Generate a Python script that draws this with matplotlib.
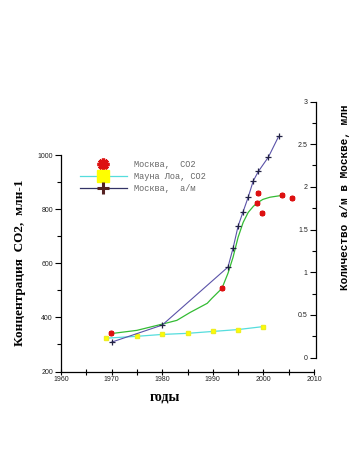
import numpy as np
import matplotlib.pyplot as plt
from matplotlib.lines import Line2D

# Москва, CO2 (точки, левая ось)
years_msk_co2 = [1969.8, 1991.8, 1999.0, 1998.8, 1999.8, 2003.7, 2005.7]
co2_msk = [341, 507, 860, 822, 785, 851, 840]

# сглаженная кривая по данным Москвы
years_fit = [1970.3, 1975, 1980.2, 1982.9, 1985.5, 1988.9, 1989.8, 1991.8, 1993.0,
             1994.0, 1995.0, 1996.0, 1997.0, 1998.0, 1998.7, 1999.9, 2001.3,
             2002.7, 2003.7]
co2_fit = [341, 352, 376, 389, 418, 452, 470, 507, 563, 622, 696, 751, 788,
           810, 822, 836, 844, 848, 851]

# Мауна Лоа, CO2
years_ml = [1968.8, 1975, 1980, 1985, 1990, 1995, 2000]
co2_ml = [323, 330, 337, 341, 348, 355, 366]

# Москва, автомобили (правая ось), млн
years_cars = [1970, 1980, 1993, 1994, 1995, 1996, 1997, 1998, 1999, 2001, 2003]
cars = [0.18, 0.38, 1.06, 1.28, 1.54, 1.71, 1.88, 2.07, 2.18, 2.35, 2.59]

x_ticks = [1960, 1970, 1980, 1990, 2000, 2010]
y_ticks = [200, 400, 600, 800, 1000]
y2_ticks = [0, 0.5, 1, 1.5, 2, 2.5, 3]
y2_labels = ['0', '0.5', '1', '1.5', '2', '2.5', '3']

W, H = 351, 459


def box(x0, y0, x1, y1):
    return [x0 / W, 1 - y1 / H, (x1 - x0) / W, (y1 - y0) / H]


fig = plt.figure(figsize=(W / 100, H / 100), dpi=100)
fig.patch.set_facecolor('white')

tick_font = dict(family='Liberation Sans', size=5, color='#222222')

ax = fig.add_axes(box(61, 155, 314, 371.5))
ax2 = fig.add_axes(box(61, 101.5, 314, 357.5))
ax2.patch.set_visible(False)

# CO2 — левая ось
ax.plot(years_fit, co2_fit, color='#33bb33', lw=0.9, zorder=2)
ax.plot(years_ml, co2_ml, color='#55dddd', lw=0.9, marker='s', ms=3.2,
        mfc='#ffff00', mec='#eeee22', zorder=3)
ax.plot(years_msk_co2, co2_msk, ls='none', marker=(6, 2, 0), ms=4, mew=1.6,
        mec='#dd1111', zorder=4)

ax.set_xlim(1960, 2010)
ax.set_ylim(200, 1000)
ax.set_xticks(x_ticks)
ax.set_xticklabels([str(t) for t in x_ticks], **tick_font)
ax.set_xticks(np.arange(1965, 2010, 10), minor=True)
ax.set_yticks(y_ticks)
ax.set_yticklabels([str(t) for t in y_ticks], **tick_font)
ax.set_yticks(np.arange(300, 1000, 200), minor=True)
ax.tick_params(axis='x', which='both', direction='inout', length=5, width=0.8, pad=1)
ax.tick_params(axis='y', which='major', direction='out', length=4.3, width=0.8, pad=1.5)
ax.tick_params(axis='y', which='minor', direction='out', length=2.9, width=0.8)
for s in ['top', 'right']:
    ax.spines[s].set_visible(False)
for s in ['left', 'bottom']:
    ax.spines[s].set_linewidth(0.9)

ax.set_ylabel('Концентрация  CO2,  млн-1', family='Liberation Serif',
              weight='bold', size=9.5, labelpad=8)
ax.set_xlabel('годы', family='Liberation Serif', weight='bold', size=10)
ax.xaxis.set_label_coords((165 - 61) / 253, -(397 - 371.5) / 216.5)
ax.xaxis.label.set_va('center')

# автомобили — правая ось
ax2.plot(years_cars, cars, color='#5a52a8', lw=0.8, marker='+', ms=5,
         mew=0.9, mec='#222244', zorder=3)
ax2.set_xlim(1960, 2010)
ax2.set_ylim(0, 3)
for s in ['top', 'bottom', 'left']:
    ax2.spines[s].set_visible(False)
ax2.spines['right'].set_position(('outward', 1.5))
ax2.spines['right'].set_linewidth(0.9)
ax2.xaxis.set_visible(False)
ax2.yaxis.tick_right()
ax2.set_yticks(y2_ticks)
ax2.set_yticklabels(y2_labels, ha='right', **tick_font)
ax2.set_yticks(np.arange(0.25, 3, 0.5), minor=True)
ax2.tick_params(axis='y', which='major', direction='in', length=4.3, width=0.8, pad=-6)
ax2.tick_params(axis='y', which='minor', direction='in', length=2.9, width=0.8)

fig.text(345 / W, 1 - 197 / H, 'Количество а/м в Москве, млн',
         family='Liberation Mono', weight='bold', size=7.9, rotation=90,
         ha='center', va='center', rotation_mode='anchor')

# легенда
handles = [
    Line2D([], [], ls='none', marker=(8, 2, 0), ms=8.5, mew=2.4, mec='#dd1111'),
    Line2D([], [], color='#55dddd', lw=0.9, marker='s', ms=8, mfc='#ffff00',
           mec='#ffff00'),
    Line2D([], [], color='#333366', lw=0.9, marker='+', ms=8, mew=2.2,
           mec='#552222'),
]
labels = ['Москва,  CO2', 'Мауна Лоа, CO2', 'Москва,  а/м']
leg = fig.legend(handles, labels, loc='upper left',
                 bbox_to_anchor=(80 / W, 1 - 160 / H), frameon=False,
                 prop=dict(family='Liberation Mono', size=6.2),
                 handlelength=5.4, handletextpad=0.9, labelspacing=0.35,
                 borderpad=0, borderaxespad=0)
for t in leg.get_texts():
    t.set_color('#666666')

fig.savefig('out.png', dpi=100)
